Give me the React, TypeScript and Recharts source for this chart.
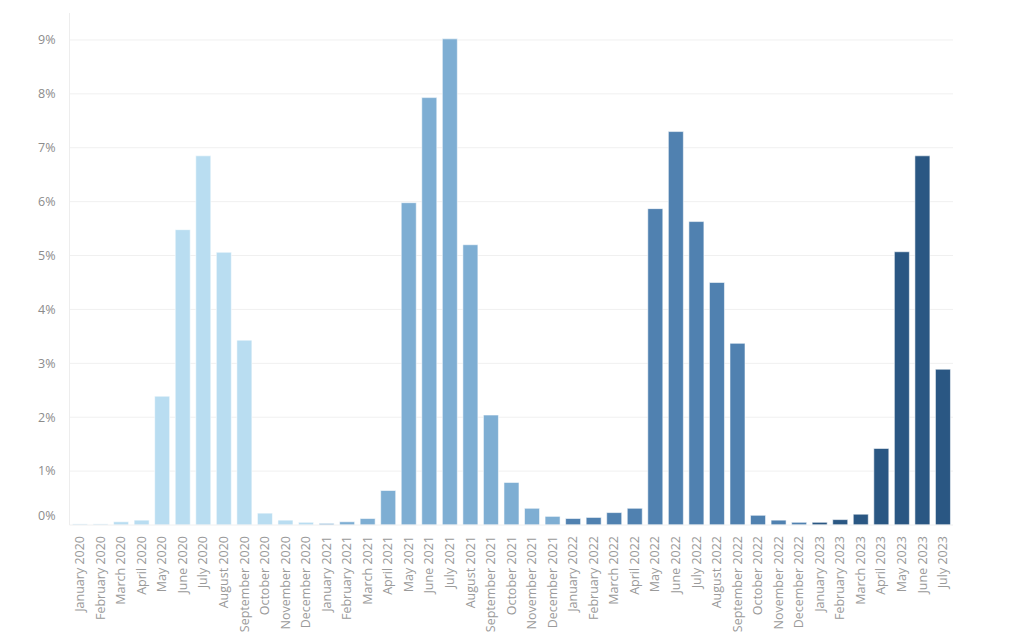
import React from "react";
import { BarChart, Bar, XAxis, YAxis, CartesianGrid, Cell } from "recharts";

const months = [
  "January 2020", "February 2020", "March 2020", "April 2020", "May 2020", "June 2020",
  "July 2020", "August 2020", "September 2020", "October 2020", "November 2020", "December 2020",
  "January 2021", "February 2021", "March 2021", "April 2021", "May 2021", "June 2021",
  "July 2021", "August 2021", "September 2021", "October 2021", "November 2021", "December 2021",
  "January 2022", "February 2022", "March 2022", "April 2022", "May 2022", "June 2022",
  "July 2022", "August 2022", "September 2022", "October 2022", "November 2022", "December 2022",
  "January 2023", "February 2023", "March 2023", "April 2023", "May 2023", "June 2023",
  "July 2023",
];

const shares = [
  0.02, 0.02, 0.06, 0.09, 2.39, 5.48, 6.85, 5.06, 3.43, 0.22, 0.09, 0.05,
  0.03, 0.06, 0.12, 0.64, 5.98, 7.93, 9.02, 5.2, 2.04, 0.79, 0.31, 0.16,
  0.12, 0.14, 0.23, 0.31, 5.87, 7.3, 5.63, 4.5, 3.37, 0.18, 0.09, 0.05,
  0.05, 0.1, 0.2, 1.42, 5.07, 6.85, 2.89,
];

const yearColors: Record<string, string> = {
  "2020": "#b9ddf1",
  "2021": "#7eaed3",
  "2022": "#5081b0",
  "2023": "#2a5783",
};

const yTicks = [0, 1, 2, 3, 4, 5, 6, 7, 8, 9];

const data = months.map((m, i) => ({ month: m, value: shares[i], year: m.slice(-4) }));

const FONT = "'Open Sans', sans-serif";

const XTick = (props: any) => {
  const { x, y, payload } = props;
  return (
    <text
      x={x}
      y={y}
      transform={`rotate(-90, ${x}, ${y})`}
      textAnchor="end"
      dy="0.35em"
      fill="#9a9a9a"
      fontSize={12.5}
      fontFamily={FONT}
    >
      {payload.value}
    </text>
  );
};

const YTick = (props: any) => {
  const { x, y, payload } = props;
  const shift = payload.value === 0 ? -9 : 0;
  return (
    <text
      x={x}
      y={y + shift}
      textAnchor="end"
      dy="0.35em"
      fill="#8c8c8c"
      fontSize={12.5}
      fontFamily={FONT}
    >
      {payload.value}%
    </text>
  );
};

export default function App() {
  return (
    <div style={{ position: "absolute", left: 0, top: 0, width: 1024, height: 633, background: "#fff" }}>
      <BarChart
        width={1024}
        height={633}
        data={data}
        margin={{ top: 13, right: 71, left: 0, bottom: 0 }}
        barSize={15}
      >
        <CartesianGrid vertical={false} stroke="#f0f0f0" horizontalValues={yTicks.slice(1)} />
        <XAxis
          dataKey="month"
          interval={0}
          height={108}
          tickLine={false}
          axisLine={{ stroke: "#f0f0f0" }}
          tick={<XTick />}
          tickMargin={5}
        />
        <YAxis
          type="number"
          domain={[0, 9.5]}
          ticks={yTicks}
          width={69.5}
          tickLine={false}
          axisLine={{ stroke: "#ededed" }}
          tick={<YTick />}
          tickMargin={8}
        />
        <Bar dataKey="value" isAnimationActive={false}>
          {data.map((d, i) => (
            <Cell key={i} fill={yearColors[d.year]} stroke="rgba(255,255,255,0.55)" strokeWidth={1} />
          ))}
        </Bar>
      </BarChart>
    </div>
  );
}
